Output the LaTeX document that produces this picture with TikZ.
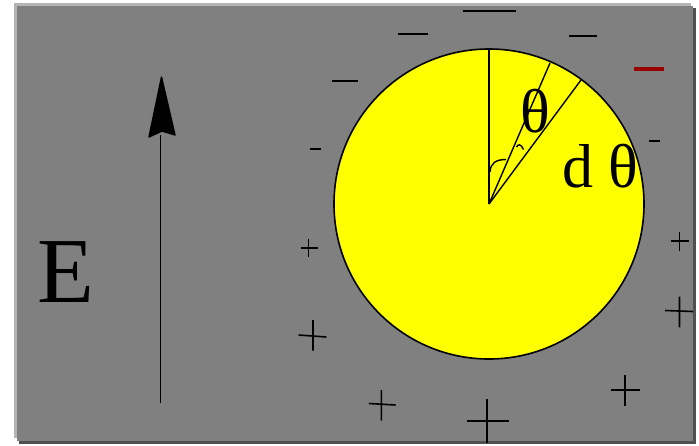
\documentclass[tikz,border=0pt]{standalone}
\usepackage{fontspec}
\setmainfont{Liberation Serif}
\definecolor{bggray}{RGB}{128,128,128}
\definecolor{lightband}{RGB}{180,180,180}
\definecolor{darkband}{RGB}{80,80,80}
\definecolor{chargered}{RGB}{153,0,0}
\definecolor{discyellow}{RGB}{255,255,0}
\begin{document}
\begin{tikzpicture}[x=1pt,y=-1pt,
  charge/.style={line width=1.6pt},
  bigcharge/.style={line width=2pt},
  lbl/.style={inner sep=0pt, font=\fontsize{62}{62}\selectfont},
  thin/.style={line width=1.4pt}]
\useasboundingbox (0,0) rectangle (699,445);
\fill[white] (0,0) rectangle (699,445);
% shadowed panel
\fill[lightband] (14,3) rectangle (691,438);
\fill[darkband] (19,8) rectangle (696,444);
\fill[bggray] (17,6) rectangle (693,441);
% yellow disc
\coordinate (c) at (489,204);
\filldraw[fill=discyellow, draw=black, line width=1.6pt] (c) circle (155pt);
\coordinate (top) at (489,49);
\coordinate (r1) at (550,63);
\coordinate (r2) at (581,80);
\draw[thin] (c) -- (top);
\draw[thin] (c) -- (r1);
\draw[thin] (c) -- (r2);
\draw[thin] (490,172) .. controls (490.5,163) and (496,159.5) .. (506,159.5);
\draw[thin] (516.5,147) .. controls (518,144) and (521,143.5) .. (523.5,149.5);
% labels
\node[lbl] (theta) at (535.5,111.3) {θ};
\node[lbl] (dtheta) at (600.5,166.5) {d θ};
\node[lbl, font=\fontsize{93}{93}\selectfont] (E) at (65.5,272.5) {E};
% field arrow
\coordinate (ebase) at (160.5,403);
\coordinate (etip) at (161.5,77);
\draw[line width=1.5pt] (ebase) -- (160.5,135);
\filldraw[line width=1.4pt, line join=round] (149,137) -- (etip) -- (175,135) -- (162,131) -- cycle;
% minus charges
\draw[charge] (462.5,11) -- (515.5,11);
\draw[charge] (398,34) -- (428,34);
\draw[charge] (569,36) -- (597,36);
\draw[line width=4pt, chargered] (634,69) -- (664,69);
\draw[charge] (332,81) -- (358,81);
\draw[charge] (310,149) -- (320.5,149);
\draw[charge] (649,141) -- (659.5,141);
% plus charges
\draw[charge] (300.5,247.7) -- (317.5,247.7) (308.5,238.7) -- (308.5,256.7);
\draw[charge] (670.5,241) -- (688.5,241) (679.5,232) -- (679.5,250.7);
\draw[charge] (298.6,335) -- (326.3,337) (313,320) -- (313,350.7);
\draw[charge] (665,310.5) -- (693,311.5) (679.5,296.7) -- (679.5,327.3);
\draw[charge] (368.8,403.5) -- (395.6,405) (381.3,390) -- (381.3,420.7);
\draw[charge] (610.6,390) -- (640.2,390) (625,375) -- (625,405.7);
\draw[bigcharge] (466.7,421) -- (509,421) (487,399.3) -- (487,443);
\end{tikzpicture}
\end{document}
